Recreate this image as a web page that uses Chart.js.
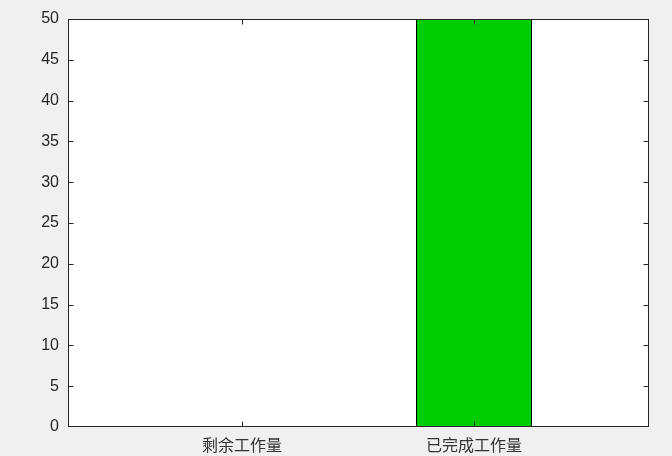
<!DOCTYPE html>
<html>
<head>
<meta charset="utf-8">
<script src="https://cdn.jsdelivr.net/npm/chart.js@4/dist/chart.umd.min.js"></script>
<style>
  html, body { margin: 0; padding: 0; background: #f0f0f0; }
  #wrap { width: 672px; height: 456px; }
</style>
</head>
<body>
<div id="wrap"><canvas id="bar-chart"></canvas></div>
<script>
  // categorias e valores
  const categories = ['剩余工作量', '已完成工作量'];
  const positions = [1, 2];
  const values = [0, 50];
  const yTicks = [0, 5, 10, 15, 20, 25, 30, 35, 40, 45, 50];

  const axisColor = '#262626';

  // moldura e marcas de escala para dentro, estilo MATLAB
  const boxPlugin = {
    id: 'box',
    beforeDraw(chart) {
      const a = chart.chartArea;
      const ctx = chart.ctx;
      ctx.save();
      ctx.fillStyle = '#ffffff';
      ctx.fillRect(a.left, a.top, a.right - a.left, a.bottom - a.top);
      ctx.restore();
    },
    afterDatasetsDraw(chart) {
      const a = chart.chartArea;
      const ctx = chart.ctx;
      const x = chart.scales.x;
      const y = chart.scales.y;
      const L = Math.round(a.left) + 0.5, R = Math.round(a.right) + 0.5;
      const T = Math.round(a.top) + 0.5, B = Math.round(a.bottom) - 0.5;
      const len = 5;
      ctx.save();
      ctx.strokeStyle = axisColor;
      ctx.lineWidth = 1;
      ctx.beginPath();
      positions.forEach(p => {
        const px = Math.round(x.getPixelForValue(p)) + 0.5;
        ctx.moveTo(px, B); ctx.lineTo(px, B - len);
        ctx.moveTo(px, T); ctx.lineTo(px, T + len);
      });
      yTicks.forEach(v => {
        let py = Math.round(y.getPixelForValue(v)) + 0.5;
        py = Math.min(Math.max(py, T), B);
        ctx.moveTo(L, py); ctx.lineTo(L + len, py);
        ctx.moveTo(R, py); ctx.lineTo(R - len, py);
      });
      ctx.stroke();
      ctx.strokeRect(L, T, R - L, B - T);
      ctx.restore();
    }
  };

  const barConfig = {
    type: 'bar',
    data: {
      datasets: [{
        data: positions.map((p, i) => ({ x: p, y: values[i] })),
        backgroundColor: '#00cc00',
        borderColor: '#000000',
        borderWidth: 1,
        barPercentage: 0.5,
        categoryPercentage: 1
      }]
    },
    options: {
      responsive: true,
      maintainAspectRatio: false,
      animation: false,
      layout: { padding: { top: 19, right: 24, left: 0, bottom: 0 } },
      plugins: {
        legend: { display: false },
        tooltip: { enabled: false }
      },
      scales: {
        x: {
          type: 'linear',
          min: 0.25,
          max: 2.75,
          offset: false,
          grid: { display: false, drawTicks: false, offset: false },
          border: { display: false },
          afterBuildTicks: s => { s.ticks = positions.map(p => ({ value: p })); },
          afterFit: s => { s.height = 29; },
          ticks: {
            padding: 8,
            color: '#333333',
            maxRotation: 0,
            font: { family: '"Noto Sans CJK SC", "Liberation Sans", sans-serif', size: 16 },
            callback: v => categories[positions.indexOf(v)]
          }
        },
        y: {
          min: 0,
          max: 50,
          grid: { display: false, drawTicks: false },
          border: { display: false },
          afterBuildTicks: s => { s.ticks = yTicks.map(v => ({ value: v })); },
          afterFit: s => { s.width = 68; },
          ticks: {
            padding: 9,
            color: axisColor,
            font: { family: '"Liberation Sans", Arial, sans-serif', size: 16 }
          }
        }
      }
    },
    plugins: [boxPlugin]
  };

  const barChart = new Chart(document.getElementById('bar-chart'), barConfig);
</script>
</body>
</html>
